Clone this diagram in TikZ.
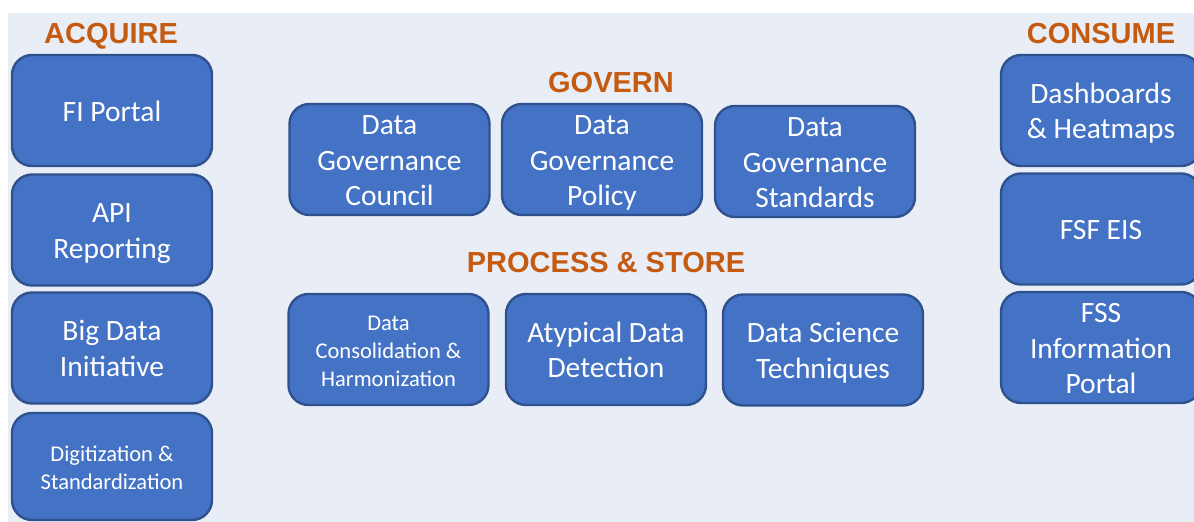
\documentclass[tikz,border=0pt]{standalone}
\usepackage{fontspec}
\setmainfont{Carlito}
\newfontfamily\headfont{Liberation Sans}
\definecolor{boxblue}{HTML}{4472C4}
\definecolor{boxline}{HTML}{2F528F}
\definecolor{bgcol}{HTML}{E9EDF5}
\definecolor{headcol}{HTML}{C55A11}
\newcommand{\bxt}[1]{\raisebox{-3.5pt}[\height][\depth]{\begin{tabular}{@{}c@{}}#1\end{tabular}}}
\begin{document}
\begin{tikzpicture}[x=1pt,y=-1pt,
  box/.style={draw=boxline, fill=boxblue, line width=2.4pt, rounded corners=20pt,
    text=white, inner sep=0pt, minimum width=200pt, minimum height=111pt,
    font=\fontsize{29.5}{35.3}\selectfont},
  smallbox/.style={box, font=\fontsize{22.5}{28}\selectfont},
  head/.style={text=headcol, anchor=base, inner sep=0pt, font=\headfont\bfseries\fontsize{29}{34}\selectfont}]
\useasboundingbox (0,0) rectangle (1194,522);
\fill[white] (0,0) rectangle (1194,522);
\fill[bgcol] (8,13) rectangle (1194,522);

% headings
\node[head] (hacq) at (111,43) {ACQUIRE};
\node[head] (hcon) at (1101,43) {CONSUME};
\node[head] (hgov) at (611,92) {GOVERN};
\node[head] (hproc) at (606,272.5) {PROCESS \& STORE};

% acquire
\node[box] (fi) at (112,110.5) {\bxt{FI Portal}};
\node[box] (api) at (112,230) {\bxt{API\\Reporting}};
\node[box] (big) at (112,348) {\bxt{Big Data\\Initiative}};
\node[smallbox, minimum height=107pt] (dig) at (112,466.5) {\bxt{Digitization \&\\Standardization}};

% consume
\node[box] (dash) at (1101,110.5) {\bxt{Dashboards\\\& Heatmaps}};
\node[box] (fsf) at (1101,229) {\bxt{FSF EIS}};
\node[box] (fss) at (1101,347.5) {\bxt{FSS\\Information\\Portal}};

% govern
\node[box] (council) at (389.5,159.5) {\bxt{Data\\Governance\\Council}};
\node[box] (policy) at (602,159.5) {\bxt{Data\\Governance\\Policy}};
\node[box] (stand) at (815,161.5) {\bxt{Data\\Governance\\Standards}};

% process
\node[smallbox] (cons) at (388.5,349.5) {\bxt{Data\\Consolidation \&\\Harmonization}};
\node[box] (atyp) at (606,349.5) {\bxt{Atypical Data\\Detection}};
\node[box] (sci) at (823,350) {\bxt{Data Science\\Techniques}};
\end{tikzpicture}
\end{document}
